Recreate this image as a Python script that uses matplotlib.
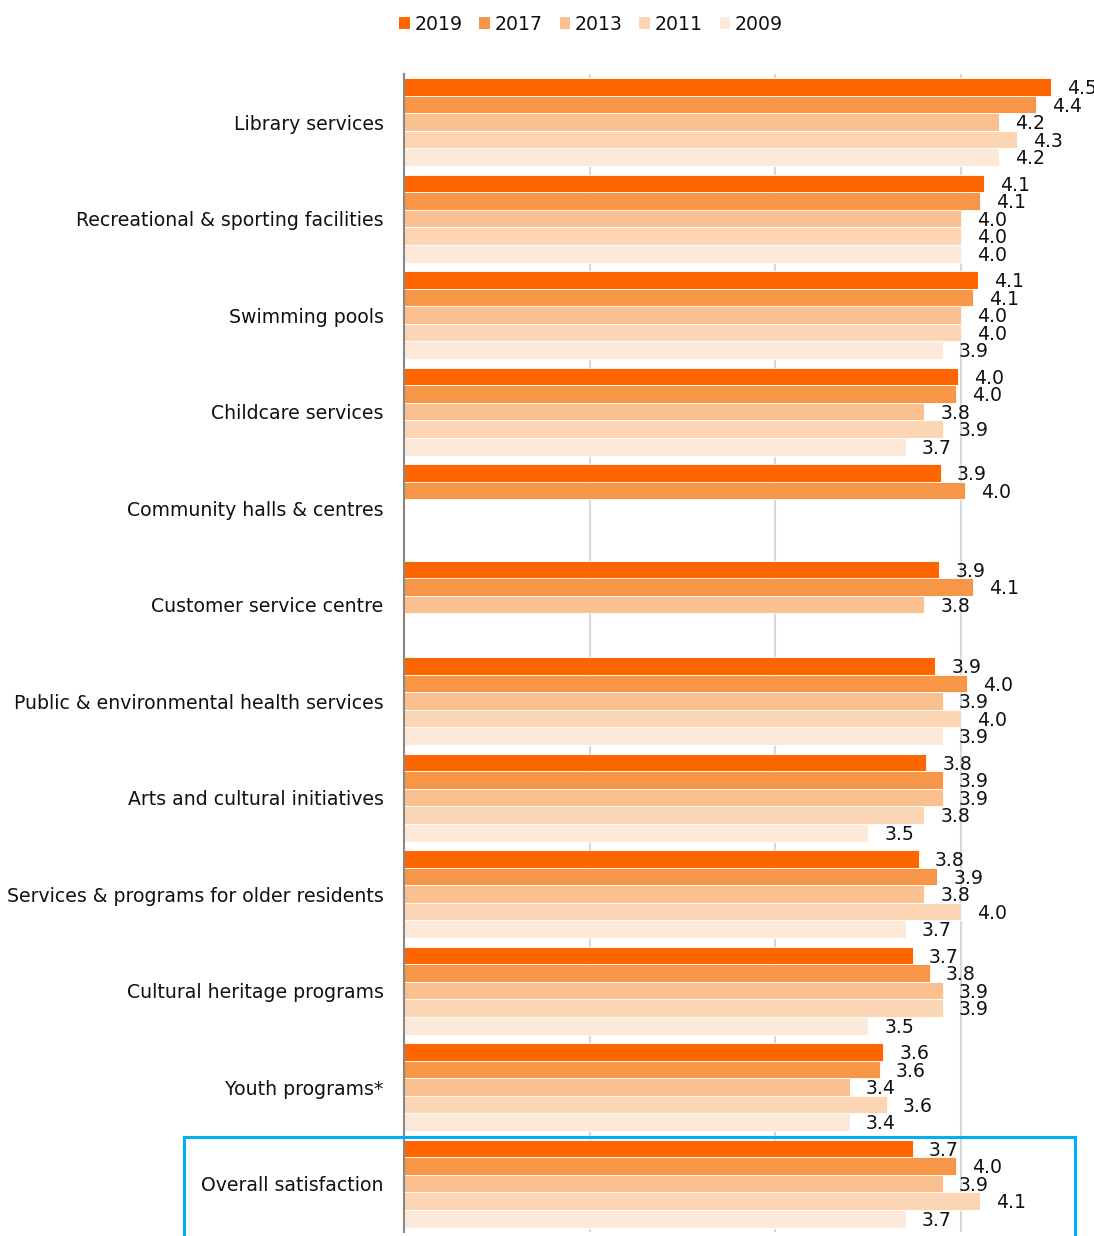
import numpy as np
import matplotlib
matplotlib.use("Agg")
import matplotlib.pyplot as plt
from matplotlib.patches import Patch, Rectangle

categories = ["Library services", "Recreational & sporting facilities", "Swimming pools",
              "Childcare services", "Community halls & centres", "Customer service centre",
              "Public & environmental health services", "Arts and cultural initiatives",
              "Services & programs for older residents", "Cultural heritage programs",
              "Youth programs*", "Overall satisfaction"]
years = ["2019", "2017", "2013", "2011", "2009"]
nan = np.nan
v2019 = [4.48, 4.12, 4.09, 3.98, 3.89, 3.88, 3.86, 3.81, 3.77, 3.74, 3.58, 3.74]
v2017 = [4.40, 4.10, 4.06, 3.97, 4.02, 4.06, 4.03, 3.90, 3.87, 3.83, 3.56, 3.97]
v2013 = [4.20, 4.00, 4.00, 3.80, nan, 3.80, 3.90, 3.90, 3.80, 3.90, 3.40, 3.90]
v2011 = [4.30, 4.00, 4.00, 3.90, nan, nan, 4.00, 3.80, 4.00, 3.90, 3.60, 4.10]
v2009 = [4.20, 4.00, 3.90, 3.70, nan, nan, 3.90, 3.50, 3.70, 3.50, 3.40, 3.70]
series = [v2019, v2017, v2013, v2011, v2009]
colors = ["#FF6600", "#F79646", "#FAC090", "#FCD5B4", "#FDE9D9"]

plt.rcParams['font.family'] = ['DejaVu Sans']
FS = 13.6
W, H = 1094, 1236
fig = plt.figure(figsize=(W / 100, H / 100), dpi=100)
ax = fig.add_axes([403.5 / W, 1 - 1232 / H, 744 / W, 1158 / H])

bh = 0.182
start = 0.044
y0 = np.arange(len(categories))
for j, (vals, col) in enumerate(zip(series, colors)):
    vals = np.array(vals, dtype=float)
    ypos = y0 - 0.5 + start + (j + 0.5) * bh
    mask = ~np.isnan(vals)
    ax.barh(ypos[mask], vals[mask] - 1, left=1, height=bh, color=col,
            edgecolor="white", linewidth=0.6, zorder=3)
    for yy, vv in zip(ypos[mask], vals[mask]):
        ax.annotate(f"{vv:.1f}", xy=(vv, yy), xytext=(11.5, -1.2),
                    textcoords="offset points", ha="left", va="center",
                    fontsize=FS, color="#111111", zorder=4, annotation_clip=False)

ax.set_xlim(1, 5)
ax.set_ylim(11.5, -0.5)
ax.set_xticks([1, 2, 3, 4, 5])
ax.set_xticklabels([])
ax.tick_params(axis="x", length=0)
ax.grid(axis="x", color="#D9D9D9", linewidth=1.5, zorder=0)
ax.set_yticks(y0)
ax.set_yticklabels(categories, fontsize=FS, color="#111111")
ax.tick_params(axis="y", length=0, pad=14.4)
for s in ["top", "right", "bottom"]:
    ax.spines[s].set_visible(False)
ax.spines["left"].set_color("#888888")
ax.spines["left"].set_linewidth(1.5)
ax.spines["left"].set_zorder(5)

handles = [Patch(facecolor=c, edgecolor="none", label=y) for c, y in zip(colors, years)]
fig.legend(handles=handles, loc="center", bbox_to_anchor=(591 / W, 1 - 24 / H), ncol=5,
           frameon=False, fontsize=FS, handlelength=0.55, handleheight=0.55,
           handletextpad=0.25, columnspacing=0.9, borderaxespad=0, labelcolor="#111111")

rect = Rectangle((184 / W, -0.05), (1075 - 184) / W, (1 - 1136.5 / H) + 0.05,
                 transform=fig.transFigure, fill=False, edgecolor="#00B0F0",
                 linewidth=2.2, clip_on=False, zorder=10)
fig.add_artist(rect)

fig.savefig("out.png", dpi=100)
